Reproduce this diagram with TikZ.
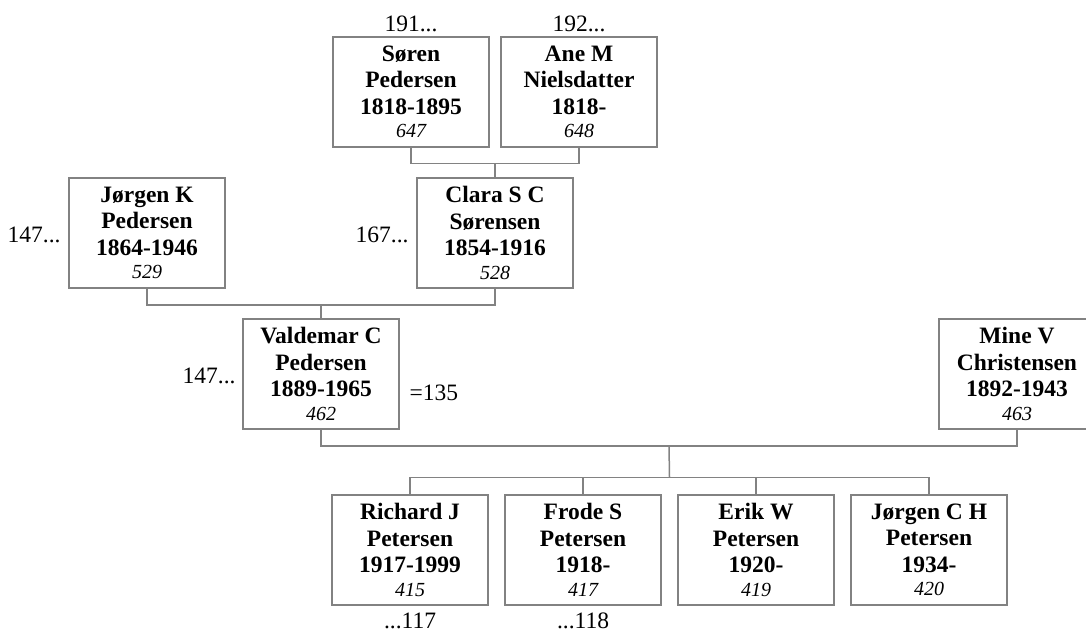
\documentclass[tikz,border=0pt]{standalone}
\usepackage{fontspec}
\setmainfont{Liberation Serif}
\usetikzlibrary{
  calc,
  positioning}
\definecolor{linegray}{RGB}{130,130,130}
\newcommand{\numfont}{\fontsize{20}{22}\selectfont\mdseries\itshape}
\newcommand{\pers}[4]{#1\\#2\\#3\\[-3pt]{\numfont #4}}

\begin{document}
\begin{tikzpicture}[
  x=1pt,y=-1pt,
  line width=1.5pt,
  person/.style={draw=linegray,minimum width=156pt,minimum height=110pt,inner sep=0pt,align=center,
    font=\fontsize{23.5}{26.5}\selectfont\bfseries},
  note/.style={inner sep=0pt,font=\fontsize{23.5}{26}\selectfont},
  link/.style={draw=linegray}
]%
  \useasboundingbox (0,0) rectangle (1086,631);

  \node[person] (soren) at (411,92) {\pers{Søren}{Pedersen}{1818-1895}{647}};
  \node[person] (ane) at (579,92) {\pers{Ane M}{Nielsdatter}{1818-}{648}};
  \node[person] (jorgenk) at (147,233) {\pers{Jørgen K}{Pedersen}{1864-1946}{529}};
  \node[person] (clara) at (495,233) {\pers{Clara S C}{Sørensen}{1854-1916}{528}};
  \node[person] (valdemar) at (321,374) {\pers{Valdemar C}{Pedersen}{1889-1965}{462}};
  \node[person] (mine) at (1017,374) {\pers{Mine V}{Christensen}{1892-1943}{463}};
  \node[person] (richard) at (410,550) {\pers{Richard J}{Petersen}{1917-1999}{415}};
  \node[person] (frode) at (583,550) {\pers{Frode S}{Petersen}{1918-}{417}};
  \node[person] (erik) at (756,550) {\pers{Erik W}{Petersen}{1920-}{419}};
  \node[person] (jorgench) at (929,550) {\pers{Jørgen C H}{Petersen}{1934-}{420}};

  \node[note,above=4pt of soren] (n191) {191...};
  \node[note,above=4pt of ane] (n192) {192...};
  \node[note,left=7pt of jorgenk,yshift=-2pt] (n147a) {147...};
  \node[note,left=7pt of clara,yshift=-2pt] (n167) {167...};
  \node[note,left=6pt of valdemar,yshift=-2pt] (n147b) {147...};
  \node[note,anchor=west] (n135) at ($(valdemar.east)+(9,19)$) {=135};
  \node[note,below=6pt of richard] (n117) {...117};
  \node[note,below=6pt of frode] (n118) {...118};

  \coordinate (sa) at ($(soren.south)!0.5!(ane.south)+(0,16)$);
  \coordinate (jc) at ($(jorgenk.south)!0.5!(clara.south)+(0,16)$);
  \coordinate (vm) at ($(valdemar.south)!0.5!(mine.south)+(0,16)$);
  \coordinate (kids) at ($(richard.north)!0.5!(jorgench.north)+(0,-17)$);

  \draw[link] (soren.south) |- (sa) -| (ane.south);
  \draw[link] (sa) -- (clara.north);
  \draw[link] (jorgenk.south) |- (jc) -| (clara.south);
  \draw[link] (jc) -- (valdemar.north);
  \draw[link] (valdemar.south) |- (vm) -| (mine.south);
  \draw[link] (vm) -- (kids);
  \draw[link] (richard.north) |- (kids) -| (jorgench.north);
  \draw[link] (frode.north) -- (frode.north |- kids);
  \draw[link] (erik.north) -- (erik.north |- kids);
\end{tikzpicture}
\end{document}
